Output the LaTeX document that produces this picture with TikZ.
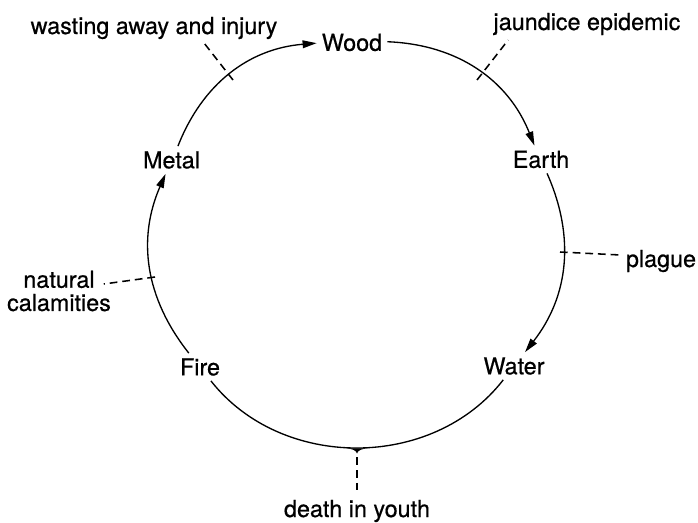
\documentclass[tikz,border=0pt]{standalone}
\usepackage{fontspec}
\setmainfont[FakeBold=0.6]{TeX Gyre Heros}
\usetikzlibrary{arrows.meta}
\begin{document}
\begin{tikzpicture}[x=0.025cm,y=0.025cm,
  elem/.style={font=\fontsize{16.6}{16.5}\selectfont,inner sep=3.5pt},
  remark/.style={font=\fontsize{16.6}{16.5}\selectfont,inner sep=3.3pt,align=center},
  cyc/.style={line width=0.95pt,bend left=#1},
  arrowed/.style={-{Triangle[length=10pt,width=5.5pt]}},
  note/.style={line width=1.1pt,dash pattern=on 5.5pt off 3.5pt}]
  \useasboundingbox (0,0) rectangle (698,522);
  % the five phases
  \node[elem] (wood)  at (352,479.5) {Wood};
  \node[elem] (earth) at (541,362.5) {Earth};
  \node[elem] (water) at (514,156) {Water};
  \node[elem] (fire)  at (200,155) {Fire};
  \node[elem] (metal) at (171.5,362) {Metal};
  % the cycle
  \draw[cyc=32,arrowed] (metal) to (wood);
  \draw[cyc=33,arrowed] (wood) to (earth);
  \draw[cyc=31,arrowed] (earth) to (water);
  \draw[cyc=52] (water) to (fire);
  \draw[cyc=31,arrowed] (fire) to (metal);
  \coordinate (cusp) at (357,73);
  \fill (346,73.6) .. controls (352,73.2) and (356,72) .. (357,68.5)
    .. controls (358,72) and (362,73.2) .. (368,73.6) -- cycle;
  % what follows when the cycle is broken
  \node[remark,anchor=base] (wasting) at (154,488) {wasting away and injury};
  \node[remark,anchor=base] (jaundice) at (587,492) {jaundice epidemic};
  \node[remark,anchor=base] (plague) at (661,255) {plague};
  \node[remark] (natural) at (59,231) {natural\\calamities};
  \node[remark,anchor=base] (death) at (357,5) {death in youth};
  \coordinate (wasteAt) at (233,442);
  \coordinate (jaundAt) at (477,442);
  \coordinate (plagueAt) at (560,270);
  \coordinate (calamAt) at (155,245);
  \draw[note] (wasteAt) -- ([xshift=1.27cm]wasting.south);
  \draw[note] (jaundAt) -- ([xshift=-1.97cm]jaundice.south);
  \draw[note] (plagueAt) -- ([yshift=0.15cm]plague.west);
  \draw[note] (calamAt) -- ([xshift=-0.3cm,yshift=0.175cm]natural.east);
  \draw[note,shorten <=6pt] (cusp) -- (death);
\end{tikzpicture}
\end{document}
